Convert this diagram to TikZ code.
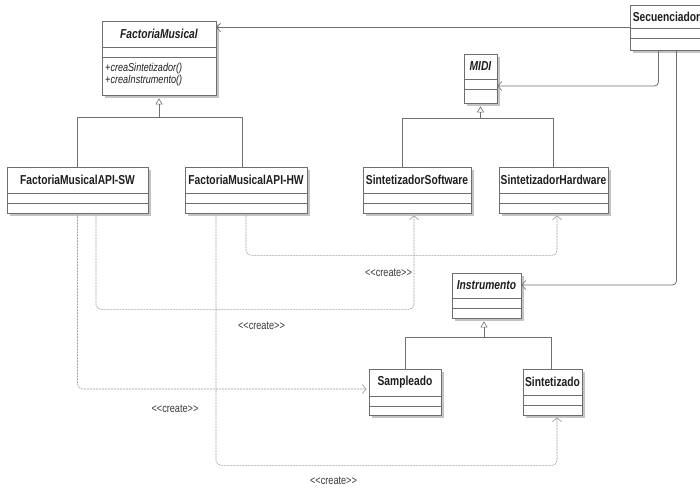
\documentclass[tikz,border=0pt]{standalone}
\usepackage{fontspec}
\setmainfont{Liberation Sans}[FakeStretch=0.79]
\usetikzlibrary{arrows.meta,fit}
\definecolor{boxline}{HTML}{6E6E6E}
\definecolor{shadowc}{HTML}{C4C4C4}
\definecolor{linec}{HTML}{707070}
\definecolor{depc}{HTML}{9A9A9A}
\definecolor{txt}{HTML}{1E1E1E}
\definecolor{lbltxt}{HTML}{3A3A3A}
\tikzset{
  umlbox/.style={draw=boxline, fill=white, inner sep=0pt, line width=0.7pt},
  sepline/.style={draw=boxline, line width=0.6pt},
  cname/.style={font=\fontsize{13}{15}\selectfont\bfseries, text=txt, inner sep=0pt},
  cmeth/.style={font=\fontsize{11.5}{13}\selectfont\itshape, text=txt, inner sep=0pt, anchor=west},
  lbl/.style={font=\fontsize{11.6}{13}\selectfont, text=lbltxt, inner sep=0pt},
  assoc/.style={draw=linec, line width=0.8pt, rounded corners=4pt, -{Straight Barb[length=4pt,width=9pt,line width=0.6pt]}},
  genl/.style={draw=linec, line width=0.8pt},
  genarrow/.style={draw=linec, line width=0.8pt, -{Triangle[open,length=6pt,width=7pt,line width=0.6pt]}, shorten >=3pt},
  dep/.style={draw=depc, line width=0.6pt, dash pattern=on 2pt off 1pt, rounded corners=5pt, -{Straight Barb[length=4pt,width=9pt,line width=0.6pt]}, shorten >=2pt},
}
% #1 name, #2 x1, #3 y1, #4 x2, #5 y2, #6 sep1, #7 sep2, #8 text
\newcommand{\umlclass}[8]{%
  \fill[shadowc] (#2+3,#3+3) rectangle (#4+3,#5+3);
  \node[umlbox, fit={(#2,#3) (#4,#5)}] (#1) {};
  \draw[sepline] (#1.west |- 0,#6) -- (#1.east |- 0,#6);
  \draw[sepline] (#1.west |- 0,#7) -- (#1.east |- 0,#7);
  \node[cname] (#1-name) at ({(#2+#4)/2},{(#3+#6)/2}) {#8};
}
\newcommand{\createlbl}{{<}{<}create{>}{>}}
\begin{document}
\begin{tikzpicture}[x=1pt,y=-1pt]
\useasboundingbox (0,0) rectangle (700,488);
\clip (0,0) rectangle (700,488);
\fill[white] (0,0) rectangle (700,488);

% classes
\umlclass{fm}{102}{21}{216}{95}{47}{57}{\itshape FactoriaMusical}
\node[cmeth] (m1) at (105,69) {+creaSintetizador()};
\node[cmeth] (m2) at (105,81) {+creaInstrumento()};
\umlclass{sec}{630}{5}{703}{50}{28}{38}{Secuenciador}
\umlclass{midi}{464}{54}{497}{103}{79}{89}{\itshape MIDI}
\umlclass{sw}{7}{167}{148}{213}{193}{203}{FactoriaMusicalAPI-SW}
\umlclass{hw}{185}{167}{307}{213}{193}{203}{FactoriaMusicalAPI-HW}
\umlclass{ss}{363}{167}{471}{213}{193}{203}{SintetizadorSoftware}
\umlclass{sh}{499}{167}{608}{213}{193}{203}{SintetizadorHardware}
\umlclass{inst}{452}{273}{521}{318}{298}{308}{\itshape Instrumento}
\umlclass{samp}{369}{369}{441}{415}{396}{406}{Sampleado}
\umlclass{sint}{523}{369}{582}{415}{395}{405}{Sintetizado}

% associations from Secuenciador
\draw[assoc] (sec.west) -- (fm.east |- sec.west);
\draw[assoc] ([xshift=-8pt]sec.south) |- ([yshift=-7.5pt]midi.east);
\draw[assoc] ([xshift=10pt]sec.south) |- ([yshift=10.5pt]inst.east);

% generalizations
\coordinate (fmbar) at (fm.south |- 0,117);
\draw[genl] (sw.north) |- ([xshift=-4pt]hw.north |- fmbar) -- ([xshift=-4pt]hw.north);
\draw[genarrow] (fmbar) -- (fm.south);

\coordinate (midibar) at (midi.south |- 0,118);
\draw[genl] ([xshift=-15pt]ss.north) |- (sh.north |- midibar) -- (sh.north);
\draw[genarrow] (midibar) -- (midi.south);

\coordinate (instbar) at ([xshift=-2.5pt]inst.south |- 0,337);
\draw[genl] (samp.north) |- ([xshift=-1.5pt]sint.north |- instbar) -- ([xshift=-1.5pt]sint.north);
\draw[genarrow] (instbar) -- ([xshift=-2.5pt]inst.south);

% create dependencies
\draw[dep] (sw.south) |- ([yshift=3pt]samp.west);
\draw[dep] ([xshift=18.5pt]sw.south) -- ++(0,96) -| ([xshift=-3pt]ss.south);
\draw[dep] (hw.south) -- ++(0,42) -| ([xshift=3.5pt]sh.south);
\draw[dep] ([xshift=-30pt]hw.south) -- ++(0,252) -| ([xshift=4.5pt]sint.south);

% labels
\node[lbl] (l1) at (388.5,273) {\createlbl};
\node[lbl] (l2) at (261.5,326) {\createlbl};
\node[lbl] (l3) at (175,409) {\createlbl};
\node[lbl] (l4) at (333.5,481) {\createlbl};
\end{tikzpicture}
\end{document}
